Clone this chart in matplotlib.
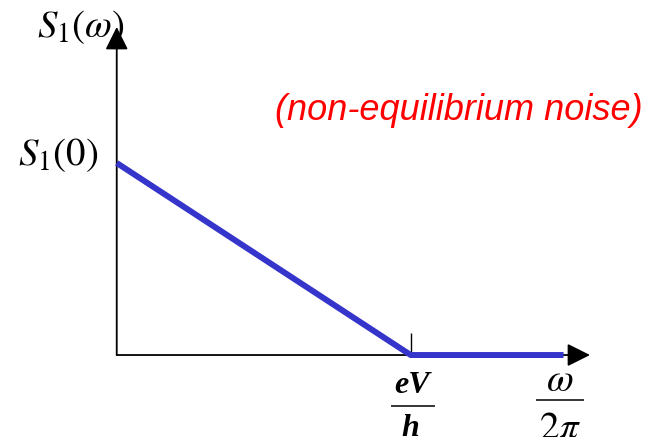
import matplotlib
matplotlib.use("Agg")
import matplotlib.pyplot as plt
from matplotlib.transforms import ScaledTranslation

# noise spectrum: linear drop from S1(0) to zero at eV/h, flat afterwards
freq = [0.0, 1.0, 1.52]
spectrum = [1.0, 0.0, 0.0]
cutoff = 1.0
x_max, y_max = 1.61, 1.708

plt.rcParams["mathtext.fontset"] = "stix"

fig = plt.figure(figsize=(6.61, 4.37), dpi=100)
ax = fig.add_axes([0.1766, 0.1876, 0.716, 0.7506])
ax.set_xlim(0, x_max)
ax.set_ylim(0, y_max)
for side in ax.spines.values():
    side.set_visible(False)
ax.set_yticks([])
ax.set_xticks([cutoff])
ax.tick_params(axis="x", direction="in", length=15.8, width=1.0,
               labelbottom=False, color="black")


def px(dx, dy):
    # shift a data position by a number of pixels
    return ax.transData + ScaledTranslation(dx / fig.dpi, dy / fig.dpi,
                                            fig.dpi_scale_trans)


# axes with arrow heads
arrow = dict(arrowstyle="-|>,head_length=14,head_width=7", lw=1.3,
             color="black", shrinkA=0, shrinkB=0, mutation_scale=1)
ax.annotate("", xy=(1, 0), xytext=(0, 0), xycoords="axes fraction",
            arrowprops=arrow, annotation_clip=False)
ax.annotate("", xy=(0, 1), xytext=(0, 0), xycoords="axes fraction",
            arrowprops=arrow, annotation_clip=False)

ax.plot(freq, spectrum, color="#3535CC", lw=4.3, clip_on=False,
        solid_capstyle="butt", zorder=3)

# axis labels
ax.text(0, y_max, r"$S_1(\omega)$", transform=px(8, 0), fontsize=28,
        ha="right", va="center", zorder=1)
ax.text(0, spectrum[0], r"$S_1(0)$", transform=px(-18, 8), fontsize=28,
        ha="right", va="center")

# eV/h under the cutoff tick
ax.text(cutoff, 0, "eV", transform=px(1, -30), fontsize=23,
        family="Liberation Serif", weight="bold", style="italic",
        ha="center", va="center")
ax.plot(cutoff, 0, marker="_", ms=32, mew=1.1, color="black",
        transform=px(2, -51), clip_on=False)
ax.text(cutoff, 0, "h", transform=px(0, -73), fontsize=23,
        family="Liberation Serif", weight="bold", style="italic",
        ha="center", va="center")

# omega / 2 pi at the end of the frequency axis
ax.text(x_max, 0, r"$\omega$", transform=px(-30, -25), fontsize=28,
        ha="center", va="center")
ax.plot(x_max, 0, marker="_", ms=35, mew=1.1, color="black",
        transform=px(-30, -45), clip_on=False)
ax.text(x_max, 0, r"$2\pi$", transform=px(-30, -72), fontsize=28,
        ha="center", va="center")

fig.text(459 / 661, 1 - 111 / 437, "(non-equilibrium noise)", color="red",
         fontsize=26, family="Liberation Sans", style="italic",
         ha="center", va="center")

fig.savefig("out.png", dpi=100)
